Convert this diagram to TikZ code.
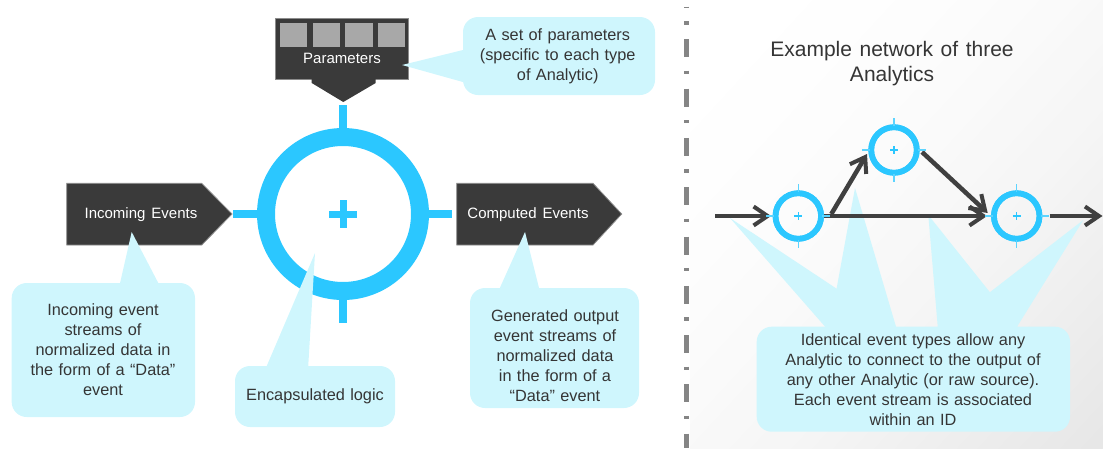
\documentclass[tikz,border=0pt]{standalone}
\usepackage{fontspec}
\setmainfont{Liberation Sans}
\usetikzlibrary{arrows.meta,calc}

\definecolor{ringcyan}{HTML}{2BC7FF}
\definecolor{tickcyan}{HTML}{5CD4FF}
\definecolor{calloutfill}{HTML}{CFF6FD}
\definecolor{darkbox}{HTML}{3A3A3A}
\definecolor{darkedge}{HTML}{8C8C8C}
\definecolor{bodytext}{HTML}{353535}
\definecolor{flowgray}{HTML}{404040}
\definecolor{paramsq}{HTML}{A8A8A8}
\definecolor{dividergray}{HTML}{858585}
\definecolor{washEnd}{HTML}{E6E6E6}

\newcommand\calloutfont{\fontsize{16.3}{20}\selectfont\spaceskip=0.33em plus 0.1em}
\newcommand\labelfont{\fontsize{15}{17}\selectfont\spaceskip=0.4em}
\newcommand\titlefont{\fontsize{21}{25}\selectfont\spaceskip=0.36em}

\tikzset{
  darkshape/.style={fill=darkbox, draw=darkedge, line width=0.8pt},
  whitelabel/.style={text=white, font=\labelfont, inner sep=0pt},
  bubble/.style={fill=calloutfill},
  bubbletext/.style={text=bodytext, font=\calloutfont, align=center, inner sep=0pt},
  bigring/.style={circle, draw=ringcyan, line width=18pt, minimum size=154pt, inner sep=0pt},
  bigtick/.style={draw=ringcyan, line width=8pt},
  smallring/.style={circle, draw=ringcyan, line width=5.7pt, minimum size=45.6pt, inner sep=0pt},
  smalltick/.style={draw=tickcyan, line width=1.3pt},
  flow/.style={draw=flowgray, line width=4.5pt,
    -{Straight Barb[length=14pt, width=19pt, line width=4pt]}},
}

\begin{document}
\begin{tikzpicture}[x=1pt, y=-1pt]
\useasboundingbox (0,0) rectangle (1103,448);

% soft grey wash behind the network example: diagonal bands, white at the
% top left fading to light grey at the bottom right
\begin{scope}
  \clip (690,0) rectangle (1103,448);
  \foreach \i in {0,...,39} {
    \pgfmathsetmacro\sa{\i/20}
    \pgfmathsetmacro\sb{(\i+1)/20}
    \pgfmathsetmacro\pct{100*((\i+0.5)/40)^2}
    \filldraw[fill=washEnd!\pct!white, draw=washEnd!\pct!white, line width=0.6pt]
      (690+\sa*413,0) -- (690+\sb*413,0) -- (690,\sb*448) -- (690,\sa*448) -- cycle;
  }
\end{scope}

% dash-dot divider
\draw[dividergray, line width=4.5pt,
      dash pattern=on 18pt off 13.4pt on 3.3pt off 14.6pt, dash phase=16.5pt]
  (686.3,6.5) -- (686.3,448);

% ---------------- single Analytic ----------------
\node[bigring] (core) at (343,214) {};
\draw[bigtick] ($(core.center)+(0,-109)$) -- ($(core.center)+(0,-82)$);
\draw[bigtick] ($(core.center)+(0,82)$) -- ($(core.center)+(0,109)$);
\draw[bigtick] ($(core.center)+(-110,0)$) -- ($(core.center)+(-82,0)$);
\draw[bigtick] ($(core.center)+(82,0)$) -- ($(core.center)+(109,0)$);
\draw[ringcyan, line width=7pt] ($(core.center)+(-14,0)$) -- ($(core.center)+(14,0)$);
\draw[ringcyan, line width=7pt] ($(core.center)+(0,-14)$) -- ($(core.center)+(0,14)$);

% parameter block with its four slots and funnel
\draw[darkshape] (275,18) rectangle (408,79);
\foreach \xa/\xb in {279/307.7, 312/340, 344/373, 377/405.7}
  \draw[fill=paramsq, draw=darkbox, line width=0.6pt] (\xa,22.7) rectangle (\xb,47.7);
\fill[darkbox] (311.7,78.6) -- (375.7,78.6) -- (375.7,83) -- (343.3,102) -- (311.7,83) -- cycle;
\node[whitelabel] (params) at (342,58) {Parameters};

% input and output event arrows
\draw[darkshape] (66.7,183.3) -- (201.7,183.3) -- (232,214) -- (201.7,245) -- (66.7,245) -- cycle;
\node[whitelabel] (incoming) at (141,215) {Incoming Events};
\draw[darkshape] (456.7,183.3) -- (593,183.3) -- (621.7,214) -- (593,245) -- (456.7,245) -- cycle;
\node[whitelabel] (computed) at (528,215) {Computed Events};

% callouts on the left
\fill[bubble] (463,50) -- (402,65) -- (470,84) -- cycle;
\fill[bubble, rounded corners=15pt] (463,17) rectangle (655,95);
\node[bubbletext] (paramnote) at (557.7,56.5)
  {A set of parameters\\(specific to each type\\of Analytic)};

\fill[bubble] (118,292) -- (131.7,232) -- (163,292) -- cycle;
\fill[bubble, rounded corners=15pt] (11.7,283) rectangle (195,417);
\node[bubbletext] (innote) at (103,350)
  {Incoming event\\streams of\\normalized data in\\the form of a “Data”\\event};

\fill[bubble] (265,370) -- (315,253) -- (308,370) -- cycle;
\fill[bubble, rounded corners=15pt] (235,366) rectangle (395,427);
\node[bubbletext] (logicnote) at (315,396) {Encapsulated logic};

\fill[bubble] (498,292) -- (525,232) -- (540,292) -- cycle;
\fill[bubble, rounded corners=15pt] (470,288) rectangle (639,408);
\node[bubbletext] (outnote) at (555,356)
  {Generated output\\event streams of\\normalized data\\in the form of a\\“Data” event};

% ---------------- network of three Analytics ----------------
\node[text=bodytext, font=\titlefont, align=center, inner sep=0pt] (title) at (892,64)
  {Example network of three\\Analytics};

% shared callout under the network
\fill[bubble] (730,218) -- (828,330) -- (899,330) -- cycle;
\fill[bubble] (855,188) -- (829,330) -- (897,330) -- cycle;
\fill[bubble] (928.3,215) -- (938,330) -- (1020,330) -- cycle;
\fill[bubble] (1083.3,220) -- (941,330) -- (1015,330) -- cycle;
\fill[bubble, rounded corners=15pt] (756.7,326.7) rectangle (1070,431.7);
\node[bubbletext] (netnote) at (913,380)
  {Identical event types allow any\\Analytic to connect to the output of\\any other Analytic (or raw source).\\Each event stream is associated\\within an ID};

\node[smallring] (a1) at (798.3,216) {};
\node[smallring] (a2) at (894,150) {};
\node[smallring] (a3) at (1016.7,216) {};
\coordinate (source) at (715,216);
\coordinate (sink) at (1102.5,216);

\draw[flow, shorten >=1.5pt] (source) -- (a1);
\draw[flow, shorten <=-3pt, shorten >=4pt] (a1) -- (a3);
\draw[flow] ($(a1.center)+(33,-2)$) -- ($(a2.center)+(-27,4)$);
\draw[flow] ($(a2.center)+(28,2)$) -- ($(a3.center)+(-29,-3)$);
\draw[flow] ($(a3.center)+(33,0)$) -- (sink);

\foreach \n in {a1,a2,a3} {
  \node[smallring] at (\n.center) {};
  \draw[smalltick] ($(\n.center)+(0,-32)$) -- ($(\n.center)+(0,-24)$);
  \draw[smalltick] ($(\n.center)+(0,24)$) -- ($(\n.center)+(0,32)$);
  \draw[smalltick] ($(\n.center)+(-32,0)$) -- ($(\n.center)+(-24,0)$);
  \draw[smalltick] ($(\n.center)+(24,0)$) -- ($(\n.center)+(32,0)$);
  \draw[ringcyan, line width=1.5pt] ($(\n.center)+(-4,0)$) -- ($(\n.center)+(4,0)$);
  \draw[ringcyan, line width=1.5pt] ($(\n.center)+(0,-4)$) -- ($(\n.center)+(0,4)$);
}
\end{tikzpicture}
\end{document}
